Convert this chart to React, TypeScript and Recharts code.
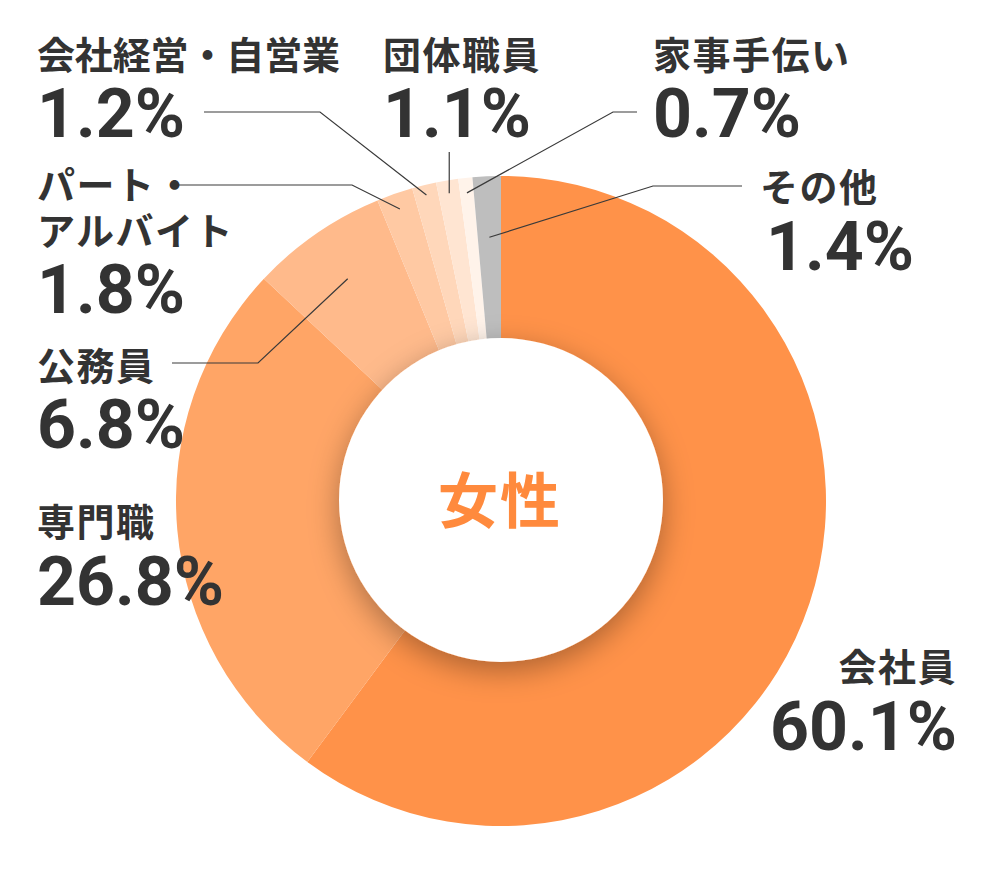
import { PieChart, Pie, Cell } from "recharts";

const categories = ["会社員", "専門職", "公務員", "パート・\nアルバイト", "会社経営・自営業", "団体職員", "家事手伝い", "その他"];
const shares = [60.1, 26.8, 6.8, 1.8, 1.2, 1.1, 0.7, 1.4];
const sliceColors = ["#FF9249", "#FFA566", "#FFBA8B", "#FFC9A3", "#FFD7BA", "#FFE5D2", "#FFF3EA", "#BEBEBE"];
const centerLabel = "女性";

const data = categories.map((name, i) => ({ name, value: shares[i] }));

const NAME_FONT = "'Noto Sans CJK JP', 'Noto Sans', sans-serif";
const PCT_FONT = "Roboto, 'Liberation Sans', sans-serif";
const TEXT = "#333333";
const RAD = Math.PI / 180;

// label placement per slice: name baselines, pct baseline, leader line (ring radius + elbow + end)
type Layout = {
  x: number;
  anchor: "start" | "end";
  nameY: number[];
  nameLen?: number;
  pctX?: number;
  pctY: number;
  line?: { r: number; elbow?: [number, number]; end: [number | null, number] };
};

const layout: Layout[] = [
  { x: 957, anchor: "end", nameY: [681], pctY: 750 },
  { x: 37, anchor: "start", nameY: [536], pctY: 605 },
  { x: 37, anchor: "start", nameY: [380], pctY: 448, line: { r: 270, elbow: [258, 363], end: [172, 363] } },
  { x: 37, anchor: "start", nameY: [199, 245], pctY: 313, line: { r: 309, elbow: [352, 185], end: [176, 185] } },
  { x: 37, anchor: "start", nameY: [69], nameLen: 303, pctY: 137, line: { r: 315, elbow: [320, 112], end: [204, 112] } },
  { x: 383, anchor: "start", nameY: [69], pctY: 137, line: { r: 312, end: [null, 152] } },
  { x: 653, anchor: "start", nameY: [69], pctY: 137, line: { r: 310, elbow: [613, 112], end: [637, 112] } },
  { x: 760, anchor: "start", nameY: [201], pctX: 766, pctY: 270, line: { r: 264, elbow: [653, 186], end: [742, 186] } },
];

function renderLabel(props: any) {
  const { cx, cy, midAngle, index } = props;
  const l = layout[index];
  const lines = categories[index].split("\n");
  let path: string | null = null;
  if (l.line) {
    const sx = cx + l.line.r * Math.cos(-midAngle * RAD);
    const sy = cy + l.line.r * Math.sin(-midAngle * RAD);
    const pts: [number, number][] = [[sx, sy]];
    if (l.line.elbow) pts.push(l.line.elbow);
    pts.push([l.line.end[0] ?? sx, l.line.end[1]]);
    path = "M" + pts.map((p) => p[0] + "," + p[1]).join(" L");
  }
  return (
    <g key={"lbl" + index}>
      {path && <path d={path} stroke="#3a3a3a" strokeWidth={1.2} fill="none" />}
      {lines.map((t, j) => (
        <text
          key={j}
          x={l.x}
          y={l.nameY[j]}
          textAnchor={l.anchor}
          fill={TEXT}
          fontFamily={NAME_FONT}
          fontWeight={700}
          fontSize={38}
          letterSpacing={l.nameLen ? 0 : 1.5}
          textLength={l.nameLen}
          lengthAdjust={l.nameLen ? "spacing" : undefined}
        >
          {t}
        </text>
      ))}
      <text
        x={l.pctX ?? l.x}
        y={l.pctY}
        textAnchor={l.anchor}
        fill={TEXT}
        fontFamily={PCT_FONT}
        fontWeight={700}
        fontSize={68}
      >
        {shares[index].toFixed(1) + "%"}
      </text>
    </g>
  );
}

function renderCenter(props: any) {
  const { cx, cy } = props;
  return (
    <text
      x={cx - 1}
      y={cy - 4}
      textAnchor="middle"
      dominantBaseline="central"
      fill="#FF8A3D"
      fontFamily={NAME_FONT}
      fontWeight={700}
      fontSize={60}
      letterSpacing={2}
    >
      {centerLabel}
    </text>
  );
}

export default function App() {
  return (
    <div style={{ position: "absolute", left: 0, top: 0, width: 1000, height: 870, background: "#fff" }}>
      <PieChart width={1000} height={870} margin={{ top: 0, right: 0, bottom: 0, left: 0 }}>
        <defs>
          <filter id="centerShadow" x="-50%" y="-50%" width="200%" height="200%">
            <feDropShadow dx="0" dy="9" stdDeviation="15" floodColor="#000" floodOpacity="0.32" />
          </filter>
        </defs>
        <Pie
          data={data}
          dataKey="value"
          nameKey="name"
          cx={501}
          cy={501}
          innerRadius={150}
          outerRadius={325}
          startAngle={90}
          endAngle={-270}
          stroke="none"
          label={renderLabel}
          labelLine={false}
          isAnimationActive={false}
        >
          {data.map((d, i) => (
            <Cell key={d.name} fill={sliceColors[i]} />
          ))}
        </Pie>
        <Pie
          data={[{ name: "center", value: 1 }]}
          dataKey="value"
          cx={501}
          cy={500}
          innerRadius={0}
          outerRadius={162}
          startAngle={90}
          endAngle={-270}
          stroke="none"
          label={renderCenter}
          labelLine={false}
          isAnimationActive={false}
        >
          <Cell fill="#ffffff" filter="url(#centerShadow)" />
        </Pie>
      </PieChart>
    </div>
  );
}
